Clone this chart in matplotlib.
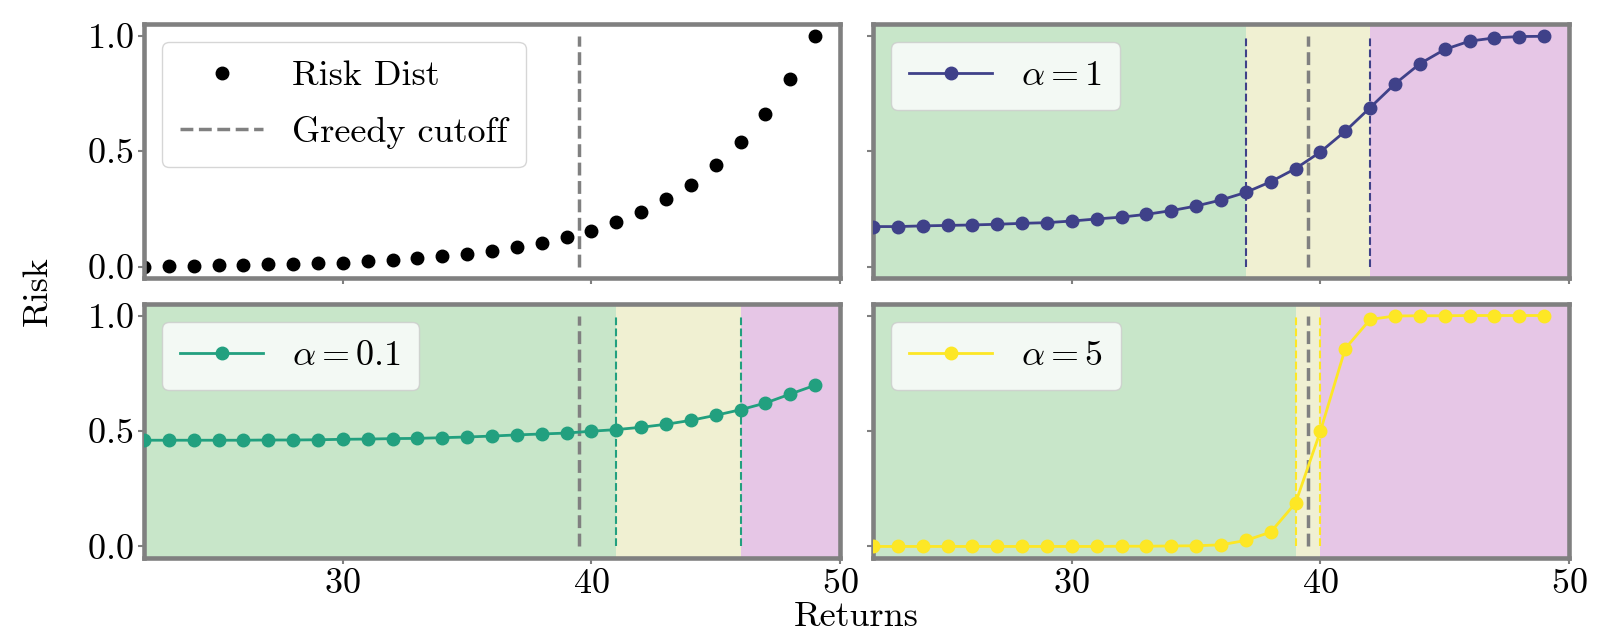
import matplotlib
matplotlib.use('Agg')
import matplotlib.pyplot as plt

# 데이터
returns = [22, 23, 24, 25, 26, 27, 28, 29, 30, 31, 32, 33, 34, 35,
           36, 37, 38, 39, 40, 41, 42, 43, 44, 45, 46, 47, 48, 49]

risk_dist = [0.0, 0.004, 0.004, 0.006, 0.007, 0.009, 0.012, 0.014, 0.017, 0.022,
             0.029, 0.036, 0.046, 0.055, 0.069, 0.083, 0.104, 0.127, 0.155, 0.191,
             0.236, 0.291, 0.355, 0.439, 0.540, 0.662, 0.811, 1.0]

risk_a01 = [0.460, 0.460, 0.460, 0.460, 0.460, 0.461, 0.461, 0.462, 0.464, 0.465,
            0.467, 0.468, 0.471, 0.474, 0.478, 0.483, 0.487, 0.491, 0.499, 0.506,
            0.516, 0.529, 0.546, 0.568, 0.592, 0.621, 0.660, 0.698]

risk_a1 = [0.173, 0.173, 0.176, 0.178, 0.180, 0.183, 0.187, 0.190, 0.197, 0.206,
           0.214, 0.226, 0.242, 0.262, 0.288, 0.321, 0.367, 0.424, 0.496, 0.586,
           0.688, 0.791, 0.878, 0.940, 0.976, 0.990, 0.996, 0.997]

risk_a5 = [0.0, 0.0, 0.0, 0.0, 0.0, 0.0, 0.0, 0.0, 0.0, 0.0,
           0.001, 0.001, 0.002, 0.003, 0.007, 0.026, 0.062, 0.188, 0.499, 0.857,
           0.983, 0.998, 0.999, 0.999, 1.0, 1.0, 1.0, 1.0]

greedy_cutoff = 39.5

alpha_labels = [r'$\alpha = 0.1$', r'$\alpha = 1$', r'$\alpha = 5$']
alpha_colors = ['#22a07f', '#3f4189', '#fde725']
alpha_bounds = [(41, 46), (37, 42), (39, 40)]

plt.rcParams['font.family'] = 'serif'
plt.rcParams['font.serif'] = ['cmr10']
plt.rcParams['mathtext.fontset'] = 'cm'
plt.rcParams['axes.formatter.use_mathtext'] = True
plt.rcParams['font.size'] = 26

fig, axes = plt.subplots(2, 2, sharex=True, sharey=True, figsize=(16.14, 6.33), dpi=100)
fig.subplots_adjust(left=0.0892, right=0.9721, top=0.962, bottom=0.1185,
                    wspace=0.0474, hspace=0.102)

x_lo, x_hi = 22, 50
green, yellow, purple = '#c8e6c9', '#f0f0d2', '#e6c6e6'


def style_axis(ax):
    for sp in ax.spines.values():
        sp.set_color('#808080')
        sp.set_linewidth(3.3)
    ax.tick_params(color='#808080', length=4, width=1.5)


# 1) 위험 분포 (좌상단)
ax = axes[0, 0]
ax.plot(returns, risk_dist, 'o', color='black', markersize=9, label='Risk Dist')
ax.vlines(greedy_cutoff, 0, 1, colors='#808080', linestyles='--', linewidth=2.5,
          label='Greedy cutoff')
ax.legend(loc='upper left', borderpad=0.5, labelspacing=0.65, handlelength=2.3)
style_axis(ax)

# 2) alpha 별 패널
series = [risk_a01, risk_a1, risk_a5]
positions = [axes[1, 0], axes[0, 1], axes[1, 1]]
for ax, vals, lab, col, (b1, b2) in zip(positions, series, alpha_labels, alpha_colors, alpha_bounds):
    ax.axvspan(x_lo, b1, color=green, lw=0, zorder=0)
    ax.axvspan(b1, b2, color=yellow, lw=0, zorder=0)
    ax.axvspan(b2, x_hi, color=purple, lw=0, zorder=0)
    ax.vlines([b1, b2], 0, 1, colors=col, linestyles='--', linewidth=1.5, zorder=1)
    ax.vlines(greedy_cutoff, 0, 1, colors='#808080', linestyles='--', linewidth=2.5, zorder=1)
    ax.plot(returns, vals, '-o', color=col, markersize=9, linewidth=2, label=lab, zorder=3)
    ax.legend(loc='upper left', borderpad=0.5, handlelength=2.3)
    style_axis(ax)

ax = axes[0, 0]
ax.set_xlim(x_lo, x_hi)
ax.set_ylim(-0.05, 1.05)
ax.set_xticks([30, 40, 50])
ax.set_yticks([0.0, 0.5, 1.0])

fig.text(0.0235, 0.54, 'Risk', rotation=90, ha='center', va='center')
fig.text(0.5307, 0.0, 'Returns', ha='center', va='bottom')

plt.savefig('out.png', dpi=100)
plt.close()
